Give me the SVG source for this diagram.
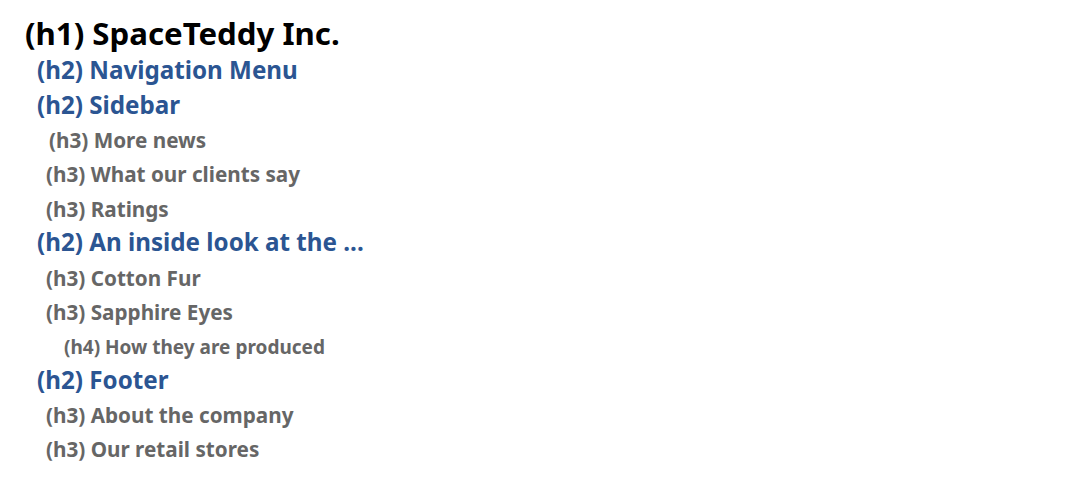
<svg xmlns="http://www.w3.org/2000/svg" width="1081" height="478" viewBox="0 0 1081 478">
<style>
text{font-family:"Noto Sans","Open Sans",sans-serif;font-weight:bold}
.h1{font-size:31.2px;fill:#000}
.h2{font-size:24.2px;fill:#2b5592}
.h3{font-size:20.7px;fill:#666}
.h4{font-size:19px;fill:#666}
</style>
<rect width="1081" height="478" fill="#fff"/>
<g id="h1-spaceteddy"><text class="h1" x="25" y="44.5">(h1) SpaceTeddy Inc.</text></g>
<g id="h2-nav"><text class="h2" x="37" y="79">(h2) Navigation Menu</text></g>
<g id="h2-sidebar"><text class="h2" x="37" y="113.5">(h2) Sidebar</text></g>
<g id="h3-more"><text class="h3" x="49" y="147.5">(h3) More news</text></g>
<g id="h3-clients"><text class="h3" x="46" y="182">(h3) What our clients say</text></g>
<g id="h3-ratings"><text class="h3" x="46" y="216.5">(h3) Ratings</text></g>
<g id="h2-inside"><text class="h2" x="37" y="251">(h2) An inside look at the ...</text></g>
<g id="h3-cotton"><text class="h3" x="46" y="285.5">(h3) Cotton Fur</text></g>
<g id="h3-sapphire"><text class="h3" x="46" y="320">(h3) Sapphire Eyes</text></g>
<g id="h4-how"><text class="h4" x="64" y="354">(h4) How they are produced</text></g>
<g id="h2-footer"><text class="h2" x="37" y="388.5">(h2) Footer</text></g>
<g id="h3-about"><text class="h3" x="46" y="422.5">(h3) About the company</text></g>
<g id="h3-stores"><text class="h3" x="46" y="456.5">(h3) Our retail stores</text></g>
</svg>
